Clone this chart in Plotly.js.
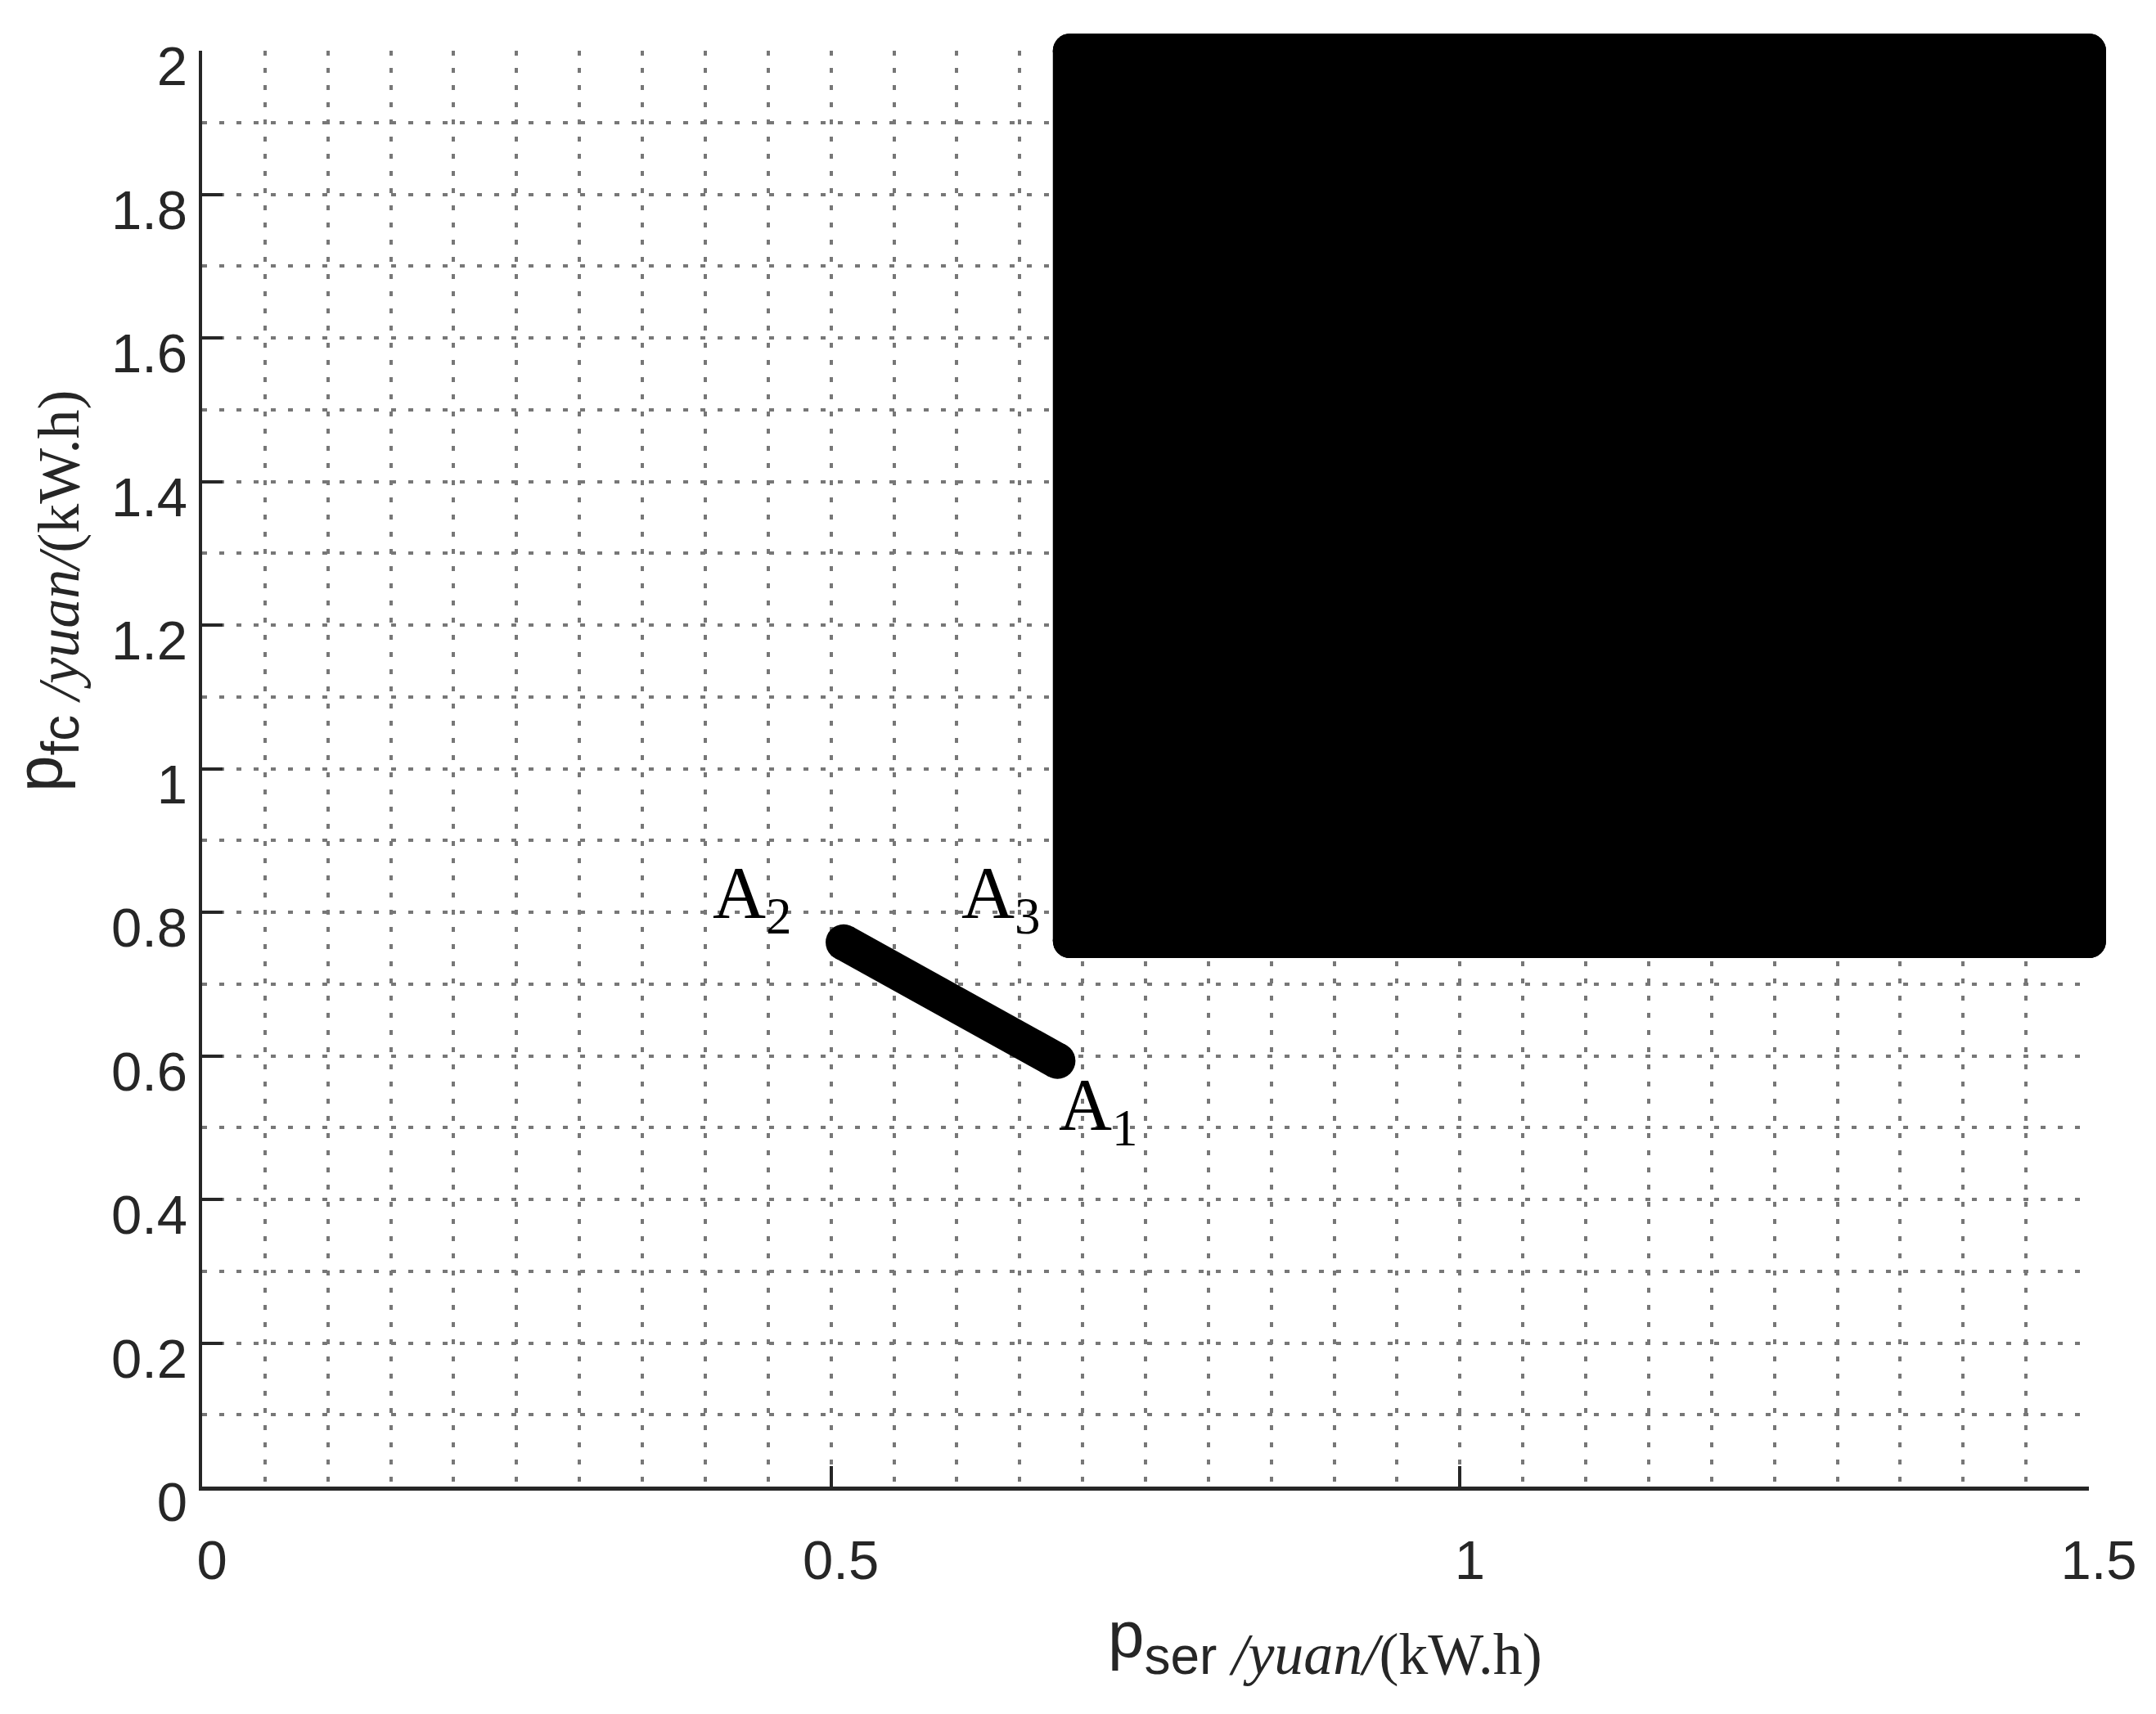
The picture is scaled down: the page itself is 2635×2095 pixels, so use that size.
<!DOCTYPE html>
<html><head><meta charset="utf-8">
<script src="https://cdn.plot.ly/plotly-3.0.1.min.js"></script>
<style>html,body{margin:0;padding:0;background:#fff;overflow:hidden}</style>
</head><body>
<div id="chart" style="width:2635px;height:2095px"></div>
<script>
// ---- data ----
const regionX = [0.69, 1.5];      // feasible region, p_ser bounds
const regionY = [0.76, 2.0];      // feasible region, p_fc bounds
const segX = [0.51, 0.68];        // A2 -> A1 segment
const segY = [0.758, 0.593];
const xTickVals = [0, 0.5, 1, 1.5];
const xTickText = ['0', '0.5', '1', '1.5'];
const yTickVals = [0, 0.2, 0.4, 0.6, 0.8, 1, 1.2, 1.4, 1.6, 1.8, 2];
const yTickText = ['0', '0.2', '0.4', '0.6', '0.8', '1', '1.2', '1.4', '1.6', '1.8', '2'];
const pointLabels = ['A<sub>1</sub>', 'A<sub>2</sub>', 'A<sub>3</sub>'];
const labelX = [0.6798, 0.4046, 0.6023];
const labelY = [0.524, 0.819, 0.819];
const xRange = [0, 1.5];
const yRange = [0, 2];

// ---- layout geometry ----
const W = 2635, H = 2095;
const mL = 247, mR = 40, mT = 20, mB = 278;
const plotW = 2306, plotH = 1755;
const dX = plotW / (W - mL - mR);
const dY = plotH / (H - mT - mB);

const ink = '#262626';
const gridC = '#777777';

// region: filled body + thick edges + round corners
const rx0 = regionX[0], rx1 = regionX[1], ry0 = regionY[0], ry1 = regionY[1];
const regionFill = {
  x: [rx0, rx1, rx1, rx0, rx0], y: [ry0, ry0, ry1, ry1, ry0],
  xaxis: 'x2', yaxis: 'y2', type: 'scatter', mode: 'lines',
  fill: 'toself', fillcolor: '#000', line: {width: 0, color: '#000'},
  hoverinfo: 'skip', showlegend: false
};
const regionEdge = {
  x: [rx0, rx1, null, rx1, rx1, null, rx1, rx0, null, rx0, rx0],
  y: [ry0, ry0, null, ry0, ry1, null, ry1, ry1, null, ry1, ry0],
  xaxis: 'x2', yaxis: 'y2', type: 'scatter', mode: 'lines+markers',
  line: {width: 42, color: '#000'}, marker: {size: 42, color: '#000'},
  cliponaxis: false, hoverinfo: 'skip', showlegend: false
};
const segment = {
  x: segX, y: segY, type: 'scatter', mode: 'lines+markers',
  line: {width: 44, color: '#000'}, marker: {size: 44, color: '#000'},
  cliponaxis: false, hoverinfo: 'skip', showlegend: false
};

const gridStyle = {gridcolor: gridC, gridwidth: 4, griddash: '6px,15px'};

const annotations = pointLabels.map((t, i) => ({
  text: t, x: labelX[i], y: labelY[i], xref: 'x', yref: 'y',
  xanchor: 'left', yanchor: 'middle', showarrow: false,
  font: {family: 'Liberation Serif, Times New Roman, serif', size: 90, color: '#000'}
}));

annotations.push({
  text: '<span style="font-family:Liberation Sans;font-size:80px">p</span><sub><span style="font-family:Liberation Sans;font-size:64px">ser</span><span style="font-size:72px"> <i>/yuan/</i>(kW.h)</span></sub>',
  xref: 'x domain', yref: 'y domain',
  x: (1619 - mL) / plotW, y: (H - mB - 2008) / plotH,
  xanchor: 'center', yanchor: 'middle', showarrow: false,
  font: {family: 'Liberation Serif, Times New Roman, serif', size: 100, color: ink}
});
annotations.push({
  text: '<span style="font-family:Liberation Sans;font-size:80px">p</span><sub><span style="font-family:Liberation Sans;font-size:64px">fc</span><span style="font-size:72px"> <i>/yuan/</i>(kW.h)</span></sub>',
  xref: 'x domain', yref: 'y domain',
  x: (57 - mL) / plotW, y: (H - mB - 722) / plotH,
  xanchor: 'center', yanchor: 'middle', showarrow: false, textangle: -90,
  font: {family: 'Liberation Serif, Times New Roman, serif', size: 100, color: ink}
});

const layout = {
  width: W, height: H,
  margin: {l: mL, r: mR, t: mT, b: mB, pad: 0},
  paper_bgcolor: '#fff', plot_bgcolor: 'rgba(0,0,0,0)',
  showlegend: false,
  xaxis: Object.assign({
    domain: [0, dX], range: xRange, anchor: 'y',
    tickmode: 'array', tickvals: xTickVals, ticktext: xTickText,
    ticks: 'inside', ticklen: 25, tickwidth: 4, tickcolor: ink,
    showline: true, linewidth: 4.5, linecolor: ink, mirror: false,
    zeroline: false, showgrid: true,
    tickfont: {family: 'Liberation Sans, Arial, sans-serif', size: 67, color: ink},
    ticklabelstandoff: 28, ticklabelshift: 12,
    minor: Object.assign({dtick: 0.05, tick0: 0, showgrid: true, ticks: ''}, gridStyle)
  }, gridStyle),
  yaxis: Object.assign({
    domain: [0, dY], range: yRange, anchor: 'x',
    tickmode: 'array', tickvals: yTickVals, ticktext: yTickText,
    ticks: 'inside', ticklen: 25, tickwidth: 4, tickcolor: ink,
    showline: true, linewidth: 4.5, linecolor: ink, mirror: false,
    zeroline: false, showgrid: true,
    tickfont: {family: 'Liberation Sans, Arial, sans-serif', size: 67, color: ink},
    ticklabelstandoff: 0, ticklabelshift: 19,
    minor: Object.assign({dtick: 0.1, tick0: 0, showgrid: true, ticks: ''}, gridStyle)
  }, gridStyle),
  xaxis2: {domain: [0, 1], range: [0, xRange[1] / dX], anchor: 'y2', visible: false, fixedrange: true},
  yaxis2: {domain: [0, 1], range: [0, yRange[1] / dY], anchor: 'x2', visible: false, fixedrange: true},
  annotations: annotations
};

Plotly.newPlot('chart', [segment, regionFill, regionEdge], layout, {displayModeBar: false, staticPlot: true});
</script>
</body></html>
